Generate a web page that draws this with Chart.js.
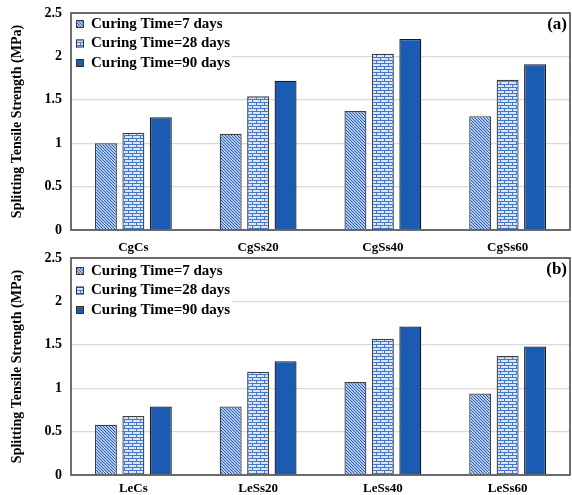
<!DOCTYPE html>
<html>
<head>
<meta charset="utf-8">
<script src="https://cdn.jsdelivr.net/npm/chart.js@4"></script>
<style>
  body { margin: 0; background: #fff; }
  #wrap { position: relative; width: 572px; height: 495px; }
  canvas { position: absolute; left: 0; }
</style>
</head>
<body>
<div id="wrap">
  <canvas id="chart-a" width="572" height="256" style="top:0"></canvas>
  <canvas id="chart-b" width="572" height="247" style="top:248px"></canvas>
</div>
<script>
// Data (MPa)
const seriesLabels = ['Curing Time=7 days', 'Curing Time=28 days', 'Curing Time=90 days'];
const yTicks = [0, 0.5, 1, 1.5, 2, 2.5];

const categoriesA = ['CgCs', 'CgSs20', 'CgSs40', 'CgSs60'];
const days7A = [1.00, 1.11, 1.37, 1.31];
const days28A = [1.12, 1.54, 2.03, 1.73];
const days90A = [1.30, 1.72, 2.20, 1.91];

const categoriesB = ['LeCs', 'LeSs20', 'LeSs40', 'LeSs60'];
const days7B = [0.58, 0.79, 1.07, 0.94];
const days28B = [0.68, 1.19, 1.57, 1.37];
const days90B = [0.79, 1.31, 1.71, 1.48];

const FONT = "'Liberation Serif', 'Times New Roman', serif";

// Fill patterns
function diagPattern() {
    const c = document.createElement('canvas');
    c.width = 3; c.height = 3;
    const g = c.getContext('2d');
    g.fillStyle = '#b0c9ee';
    g.fillRect(0, 0, 3, 3);
    g.fillStyle = '#2c5fb3';
    for (let i = 0; i < 3; i++) g.fillRect(i, i, 1, 1);
    return g.createPattern(c, 'repeat');
}

function brickPattern() {
    const c = document.createElement('canvas');
    c.width = 8; c.height = 6;
    const g = c.getContext('2d');
    g.fillStyle = '#d9e6f9';
    g.fillRect(0, 0, 8, 6);
    g.fillStyle = '#4178cf';
    g.fillRect(0, 0, 8, 1);
    g.fillRect(0, 3, 8, 1);
    g.fillRect(0, 0, 1, 3);
    g.fillRect(4, 3, 1, 3);
    return g.createPattern(c, 'repeat');
}

const fill7 = diagPattern();
const fill28 = brickPattern();
const fill90 = '#1b5cb2';

// Box around plot area, legend inside it, panel tag
const panelPlugin = {
    id: 'panel',
    afterDatasetsDraw(chart, args, opts) {
        const ctx = chart.ctx;
        const a = chart.chartArea;
        ctx.save();
        // legend
        ctx.fillStyle = '#fff';
        ctx.fillRect(a.left + 1, a.top + 1, 160, 58);
        ctx.font = 'bold 15px ' + FONT;
        ctx.textBaseline = 'middle';
        chart.data.datasets.forEach((ds, i) => {
            const y = a.top + opts.legendTop + i * 19.5;
            const x = a.left + 5;
            ctx.fillStyle = ds.backgroundColor;
            ctx.fillRect(x, y - 4, 8, 8);
            ctx.strokeStyle = '#333';
            ctx.lineWidth = 1;
            ctx.strokeRect(x + 0.5, y - 3.5, 7, 7);
            ctx.fillStyle = '#000';
            ctx.fillText(ds.label, x + opts.textGap, y);
        });
        // tag
        ctx.font = 'bold 17px ' + FONT;
        ctx.textAlign = 'right';
        ctx.fillText(opts.tag, a.right - 3, a.top + opts.tagTop);
        // frame
        ctx.strokeStyle = '#404040';
        ctx.lineWidth = 1.5;
        ctx.strokeRect(a.left, a.top, a.right - a.left, a.bottom - a.top);
        ctx.restore();
    }
};

function makeChart(id, categories, d7, d28, d90, top, bottomH, xPad, tag, legendTop, textGap) {
    const ctx = document.getElementById(id).getContext('2d');
    const mk = (label, data, bg, border) => ({
        label: label,
        data: data,
        backgroundColor: bg,
        borderColor: border,
        borderWidth: 1.3,
        categoryPercentage: 0.66,
        barPercentage: 0.8
    });
    return new Chart(ctx, {
        type: 'bar',
        data: {
            labels: categories,
            datasets: [
                mk(seriesLabels[0], d7, fill7, '#404040'),
                mk(seriesLabels[1], d28, fill28, '#404040'),
                mk(seriesLabels[2], d90, fill90, '#1a1a1a')
            ]
        },
        options: {
            responsive: false,
            animation: false,
            layout: { padding: { left: 5, right: 2, top: top, bottom: 0 } },
            plugins: {
                legend: { display: false },
                tooltip: { enabled: false },
                panel: { tag: tag, tagTop: 12, legendTop: legendTop, textGap: textGap }
            },
            scales: {
                x: {
                    grid: { display: false, drawTicks: false },
                    border: { display: false },
                    ticks: {
                        padding: xPad,
                        color: '#000',
                        font: { family: FONT, size: 13, weight: 'bold' }
                    },
                    afterFit: (s) => { s.height = bottomH; s.paddingLeft = 0; s.paddingRight = 0; }
                },
                y: {
                    min: 0,
                    max: 2.5,
                    afterBuildTicks: (s) => { s.ticks = yTicks.map(v => ({ value: v })); },
                    grid: { color: '#d9d9d9', lineWidth: 1.3, drawTicks: false },
                    border: { display: false },
                    ticks: {
                        padding: 9,
                        color: '#000',
                        font: { family: FONT, size: 14, weight: 'bold' },
                        callback: (v) => String(v)
                    },
                    title: {
                        display: true,
                        text: 'Splitting Tensile Strength (MPa)',
                        color: '#000',
                        padding: { top: 4, bottom: 0 },
                        font: { family: FONT, size: 14, weight: 'bold' }
                    },
                    afterFit: (s) => { s.width = 66; s.paddingTop = 0; s.paddingBottom = 0; }
                }
            }
        },
        plugins: [panelPlugin]
    });
}

makeChart('chart-a', categoriesA, days7A, days28A, days90A, 13, 26, 10, '(a)', 11, 15);
makeChart('chart-b', categoriesB, days7B, days28B, days90B, 10, 20, 6, '(b)', 13, 15);
</script>
</body>
</html>
